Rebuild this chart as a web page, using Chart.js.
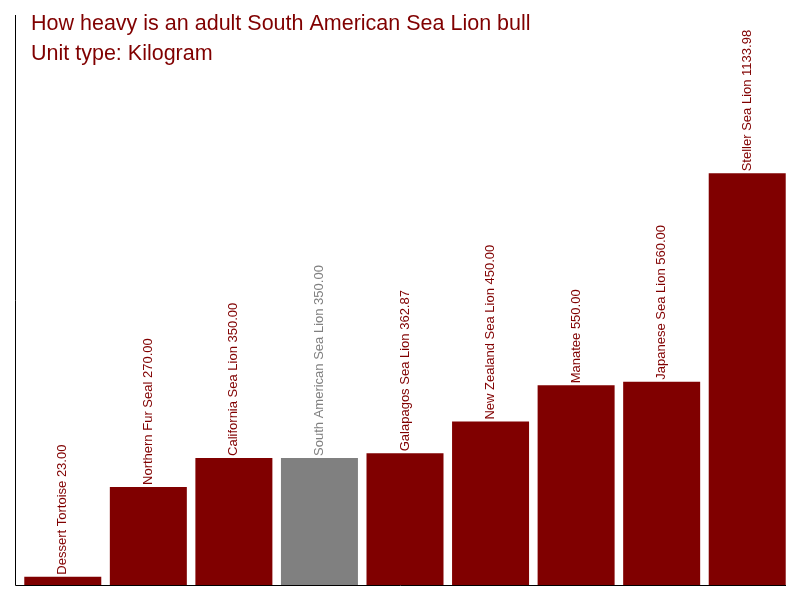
<!DOCTYPE html>
<html lang="en">
<head>
    <meta charset="UTF-8">
    <title>South American Sea Lion bull weight</title>
    <script src="https://cdn.jsdelivr.net/npm/chart.js"></script>
    <style>
        html, body { margin: 0; padding: 0; background: #fff; }
        #wrap { width: 800px; height: 600px; }
    </style>
</head>
<body>
    <div id="wrap"><canvas id="weightChart" width="800" height="600"></canvas></div>

    <script>
        const titleLines = ['How heavy is an adult South American Sea Lion bull', 'Unit type: Kilogram'];
        const animals = ['Dessert Tortoise', 'Northern Fur Seal', 'California Sea Lion', 'South American Sea Lion',
            'Galapagos Sea Lion', 'New Zealand Sea Lion', 'Manatee', 'Japanese Sea Lion', 'Steller Sea Lion'];
        const weights = [23.00, 270.00, 350.00, 350.00, 362.87, 450.00, 550.00, 560.00, 1133.98];
        const highlight = 'South American Sea Lion';

        const red = '#800000';
        const grey = '#808080';
        const colors = animals.map(a => a === highlight ? grey : red);

        // labels rotated above every bar
        const barLabels = {
            id: 'barLabels',
            afterDatasetsDraw(chart) {
                const ctx = chart.ctx;
                const meta = chart.getDatasetMeta(0);
                ctx.save();
                ctx.font = '13px "Liberation Sans", Arial, sans-serif';
                ctx.textAlign = 'left';
                ctx.textBaseline = 'middle';
                meta.data.forEach((bar, i) => {
                    ctx.save();
                    ctx.translate(bar.x, bar.y - 2);
                    ctx.rotate(-Math.PI / 2);
                    ctx.fillStyle = colors[i];
                    ctx.fillText(animals[i] + ' ' + weights[i].toFixed(2), 0, 0);
                    ctx.restore();
                });
                ctx.restore();
            }
        };

        // axis lines and title
        const frame = {
            id: 'frame',
            afterDraw(chart) {
                const ctx = chart.ctx;
                const a = chart.chartArea;
                ctx.save();
                ctx.strokeStyle = '#000';
                ctx.lineWidth = 1;
                ctx.beginPath();
                ctx.moveTo(15.5, a.top);
                ctx.lineTo(15.5, a.bottom + 0.5);
                ctx.lineTo(a.right - 4, a.bottom + 0.5);
                ctx.stroke();

                ctx.fillStyle = red;
                ctx.font = '21.5px "Liberation Sans", Arial, sans-serif';
                ctx.textAlign = 'left';
                ctx.textBaseline = 'alphabetic';
                titleLines.forEach((t, i) => ctx.fillText(t, 31, 30 + i * 30));
                ctx.restore();
            }
        };

        new Chart(document.getElementById('weightChart'), {
            type: 'bar',
            data: {
                labels: animals,
                datasets: [{
                    data: weights,
                    backgroundColor: colors,
                    borderWidth: 0,
                    barPercentage: 0.9,
                    categoryPercentage: 1.0
                }]
            },
            options: {
                responsive: false,
                animation: false,
                devicePixelRatio: 1,
                layout: { padding: { left: 20, right: 10, top: 15, bottom: 15 } },
                scales: {
                    x: { display: false },
                    y: { display: false, min: 0, max: 1570 }
                },
                plugins: {
                    legend: { display: false },
                    tooltip: { enabled: false }
                }
            },
            plugins: [barLabels, frame]
        });
    </script>
</body>
</html>
